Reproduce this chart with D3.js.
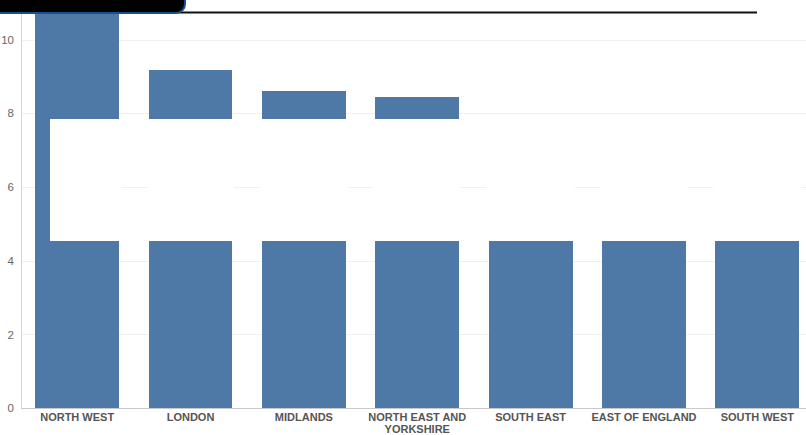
<!DOCTYPE html>
<html>
<head>
<meta charset="utf-8">
<script src="https://cdn.jsdelivr.net/npm/d3@7"></script>
<style>
    body { margin: 0; background: #fff; }
    svg { display: block; }
    text { font-family: Arial, "Liberation Sans", sans-serif; }
</style>
</head>
<body>
<svg id="chart" width="806" height="435"></svg>
<script>
// chart values
var regions = ["NORTH WEST", "LONDON", "MIDLANDS", "NORTH EAST AND YORKSHIRE", "SOUTH EAST", "EAST OF ENGLAND", "SOUTH WEST"];
var values = [10.7, 9.17, 8.6, 8.45, 4.53, 4.53, 4.53];
var yTicks = [0, 2, 4, 6, 8, 10];
// white band painted over the bars
var cutLow = 4.53;
var cutHigh = 7.84;

var svg = d3.select('#chart'),
    width = 806,
    height = 435;

var x = d3.scaleBand()
    .domain(regions)
    .range([20.5, 814])
    .paddingInner(0.26)
    .paddingOuter(0.13);

var y = d3.scaleLinear()
    .domain([0, 10])
    .range([408, 39.6]);

// gridlines
svg.append('g')
    .selectAll('line')
    .data(yTicks.filter(function (d) { return d > 0; }))
    .enter().append('line')
    .attr('x1', 21).attr('x2', width)
    .attr('y1', function (d) { return Math.round(y(d)) + 0.5; })
    .attr('y2', function (d) { return Math.round(y(d)) + 0.5; })
    .attr('stroke', '#f0f0f0');

// bars
svg.append('g')
    .attr('shape-rendering', 'crispEdges')
    .selectAll('rect')
    .data(regions)
    .enter().append('rect')
    .attr('x', function (d) { return x(d); })
    .attr('width', x.bandwidth())
    .attr('y', function (d, i) { return y(values[i]); })
    .attr('height', function (d, i) { return y(0) - y(values[i]); })
    .attr('fill', '#4e79a7');

// white band, north west keeps a thin strip on the left
svg.append('g')
    .attr('shape-rendering', 'crispEdges')
    .selectAll('rect')
    .data(regions)
    .enter().append('rect')
    .attr('x', function (d, i) { return x(d) + (i === 0 ? x.bandwidth() * 0.18 : -2); })
    .attr('width', function (d, i) { return x.bandwidth() * (i === 0 ? 0.82 : 1) + (i === 0 ? 2 : 4); })
    .attr('y', y(cutHigh))
    .attr('height', y(cutLow) - y(cutHigh))
    .attr('fill', '#fff');

// y axis
var yAxis = d3.axisLeft(y).tickValues(yTicks).tickSize(0).tickPadding(7);
var gy = svg.append('g')
    .attr('transform', 'translate(21,0)')
    .call(yAxis);
gy.select('.domain').remove();
gy.selectAll('text')
    .attr('fill', '#666')
    .style('font-size', '11.5px');

svg.append('line')
    .attr('x1', 21.5).attr('x2', 21.5)
    .attr('y1', 0).attr('y2', 408)
    .attr('stroke', '#d4d4d4');

// x axis
var xAxis = d3.axisBottom(x).tickSize(0).tickPadding(5).tickFormat('');
var gx = svg.append('g')
    .attr('transform', 'translate(0,408)')
    .call(xAxis);
gx.select('.domain')
    .attr('d', 'M21,0.5H' + width)
    .attr('stroke', '#c8c8c8');

gx.selectAll('.tick').each(function (d) {
    var words = d.split(' '), lines = [d];
    if (d.length > 16) {
        lines = [words.slice(0, 3).join(' '), words.slice(3).join(' ')];
    }
    var t = d3.select(this).append('text')
        .attr('text-anchor', 'middle')
        .attr('fill', '#555')
        .style('font-size', '11px')
        .style('font-weight', 'bold');
    lines.forEach(function (l, k) {
        t.append('tspan').attr('x', 0).attr('y', 13 + k * 12).text(l);
    });
});

// top overlay
svg.append('line')
    .attr('x1', 75).attr('x2', 757)
    .attr('y1', 12.5).attr('y2', 12.5)
    .attr('stroke', '#111')
    .attr('stroke-width', 2.2);

svg.append('path')
    .attr('d', 'M-5,-5H185V4A9,9 0 0 1 176,13H-5Z')
    .attr('fill', '#000')
    .attr('stroke', '#1a4f8f')
    .attr('stroke-width', 2);
</script>
</body>
</html>
